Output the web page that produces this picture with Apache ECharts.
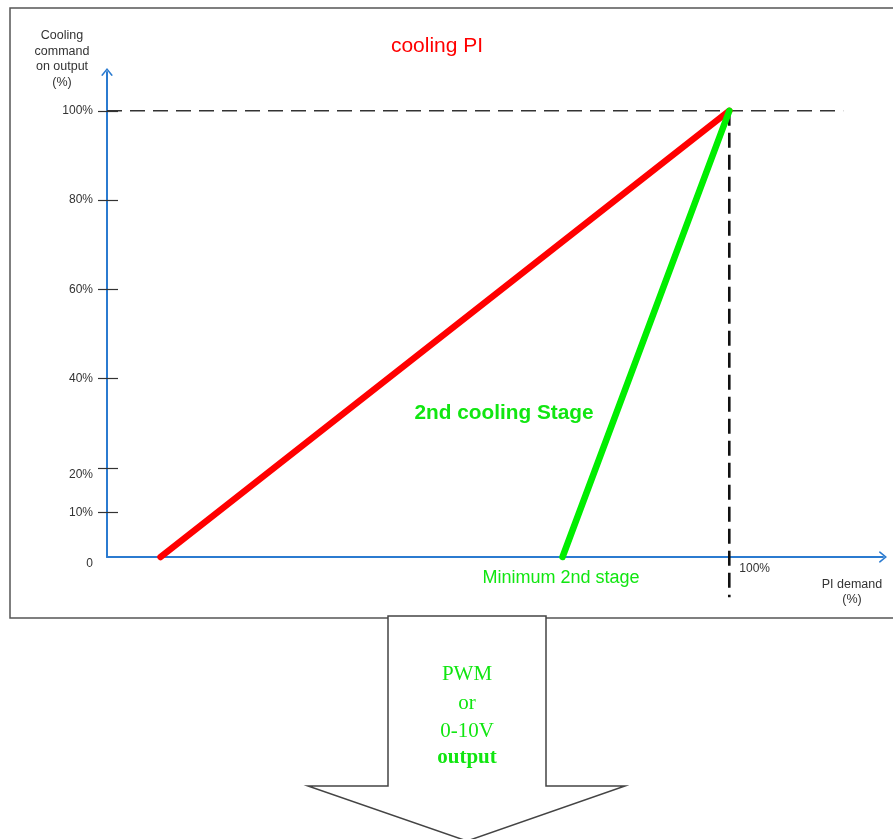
<!DOCTYPE html>
<html>
<head>
<meta charset="utf-8">
<script src="https://cdn.jsdelivr.net/npm/echarts@6/dist/echarts.min.js"></script>
<style>
html,body{margin:0;padding:0;background:#fff;}
#c{width:893px;height:839px;}
</style>
</head>
<body>
<div id="c"></div>
<script>
// ---- data ----
const yTickValues = [10, 20, 40, 60, 80, 100];
const yLabelValues = [0, 10, 20, 40, 60, 80, 100];
const xLabelValues = [100];
const coolingPI = [[8.6, 0], [100, 100]];
const secondStage = [[73.2, 0], [100, 100]];
const refLineH = [[0, 100], [118.3, 100]];
const refLineV = [[100, 100], [100, -9]];
const yAxisTitle = 'Cooling\ncommand\non output\n(%)';
const xAxisTitle = 'PI demand\n(%)';
const outputText = ['PWM', 'or', '0-10V', 'output'];

const SANS = '"Liberation Sans", Arial, sans-serif';
const SERIF = '"Liberation Serif", "Times New Roman", serif';
const AXIS_BLUE = '#2b7bd0';
const GREEN = '#00ee00';
const GREEN_TXT = '#11e611';
const chevron = 'path://M0,8 L6.5,0 L13,8 L11.4,8.8 L6.5,2.6 L1.6,8.8 Z';

const chart = echarts.init(document.getElementById('c'), null, {renderer: 'canvas'});

const option = {
  backgroundColor: '#ffffff',
  animation: false,
  grid: {left: 107, top: 72, right: 10, bottom: 282, containLabel: false},
  xAxis: {
    type: 'value', min: 0, max: 124.7,
    splitLine: {show: false},
    axisTick: {show: false},
    axisLine: {show: true, onZero: true, symbol: ['none', chevron], symbolSize: [13, 8],
      lineStyle: {color: AXIS_BLUE, width: 2}},
    axisLabel: {
      customValues: xLabelValues,
      formatter: v => v + '%',
      align: 'left', verticalAlign: 'top',
      padding: [0, 0, 0, 10], margin: 6,
      color: '#333', fontSize: 12, fontFamily: SANS
    }
  },
  yAxis: [
    {
      type: 'value', min: 0, max: 108.7,
      splitLine: {show: false},
      axisLine: {show: true, onZero: true, symbol: ['none', chevron], symbolSize: [13, 8],
        lineStyle: {color: AXIS_BLUE, width: 2}},
      axisTick: {show: true, customValues: yTickValues, length: 9, inside: false,
        lineStyle: {color: '#333', width: 1.2}},
      axisLabel: {
        customValues: yLabelValues,
        margin: 14,
        formatter: v => v === 0 ? '{low|0}' : (v === 20 ? '{low|20%}' : v + '%'),
        color: '#333', fontSize: 12, fontFamily: SANS,
        rich: {low: {fontSize: 12, fontFamily: SANS, color: '#333', padding: [14, 0, 0, 0]}}
      }
    },
    {
      type: 'value', min: 0, max: 108.7, position: 'left',
      splitLine: {show: false},
      axisLine: {show: false},
      axisTick: {show: true, customValues: yTickValues, length: 11, inside: true,
        lineStyle: {color: '#333', width: 1.2}},
      axisLabel: {show: false}
    }
  ],
  series: [
    {
      type: 'line', name: 'ref100', data: refLineH, symbol: 'none', z: 1,
      lineStyle: {color: '#333', width: 1.6, type: [15, 8]}
    },
    {
      type: 'line', name: 'refV', data: refLineV, symbol: 'none', clip: false, z: 1,
      lineStyle: {color: '#111', width: 2.6, type: [15, 7]}
    },
    {
      type: 'line', name: 'cooling PI', data: coolingPI, symbol: 'none', z: 3, clip: false,
      lineStyle: {color: '#ff0000', width: 6.5, cap: 'round'}
    },
    {
      type: 'line', name: '2nd cooling Stage', data: secondStage, symbol: 'none', z: 4, clip: false,
      lineStyle: {color: GREEN, width: 6.5, cap: 'round'}
    }
  ],
  graphic: [
    {type: 'rect', z: 0, silent: true,
      shape: {x: 10, y: 8, width: 890, height: 610},
      style: {fill: 'none', stroke: '#555', lineWidth: 1.5}},
    {type: 'text', z: 10, style: {text: yAxisTitle, x: 62, y: 28, fill: '#333',
      font: '12.5px ' + SANS, textAlign: 'center', textVerticalAlign: 'top', lineHeight: 15.5}},
    {type: 'text', z: 10, style: {text: xAxisTitle, x: 852, y: 577, fill: '#333',
      font: '12.5px ' + SANS, textAlign: 'center', textVerticalAlign: 'top', lineHeight: 15}},
    {type: 'text', z: 10, style: {text: 'cooling PI', x: 437, y: 46, fill: '#ff0000',
      font: '21px ' + SANS, textAlign: 'center', textVerticalAlign: 'middle'}},
    {type: 'text', z: 10, style: {text: '2nd cooling Stage', x: 504, y: 413, fill: GREEN_TXT,
      font: 'bold 20.8px ' + SANS, textAlign: 'center', textVerticalAlign: 'middle'}},
    {type: 'text', z: 10, style: {text: 'Minimum 2nd stage', x: 561, y: 578, fill: GREEN_TXT,
      font: '18px ' + SANS, textAlign: 'center', textVerticalAlign: 'middle'}},
    {type: 'polygon', z: 20, silent: true,
      shape: {points: [[388, 616], [546, 616], [546, 786], [625, 786], [467, 841], [308, 786], [388, 786]]},
      style: {fill: '#fff', stroke: '#444', lineWidth: 1.5}},
    {type: 'text', z: 21, style: {text: outputText[0], x: 467, y: 674, fill: GREEN_TXT,
      font: '21px ' + SERIF, textAlign: 'center', textVerticalAlign: 'middle'}},
    {type: 'text', z: 21, style: {text: outputText[1], x: 467, y: 703, fill: GREEN_TXT,
      font: '21px ' + SERIF, textAlign: 'center', textVerticalAlign: 'middle'}},
    {type: 'text', z: 21, style: {text: outputText[2], x: 467, y: 731, fill: GREEN_TXT,
      font: '21px ' + SERIF, textAlign: 'center', textVerticalAlign: 'middle'}},
    {type: 'text', z: 21, style: {text: outputText[3], x: 467, y: 758, fill: GREEN_TXT,
      font: 'bold 21px ' + SERIF, textAlign: 'center', textVerticalAlign: 'middle'}}
  ]
};
chart.setOption(option);
</script>
</body>
</html>
